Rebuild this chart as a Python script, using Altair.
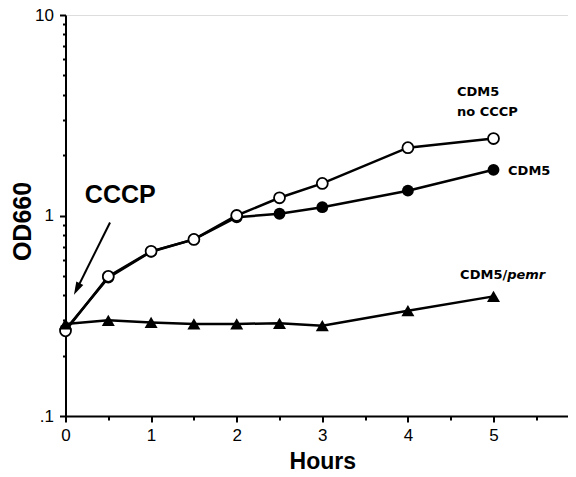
import altair as alt
import pandas as pd

# ---- data ----
hours = [0, 0.5, 1, 1.5, 2, 2.5, 3, 4, 5]
cdm5 = [0.27, 0.49, 0.66, 0.76, 0.98, 1.02, 1.10, 1.33, 1.69]
cdm5_no_cccp = [0.266, 0.497, 0.663, 0.76, 1.0, 1.226, 1.445, 2.18, 2.42]
cdm5_pemr = [0.288, 0.30, 0.293, 0.288, 0.288, 0.29, 0.282, 0.335, 0.395]
series_names = ["CDM5", "CDM5 no CCCP", "CDM5/pemr"]

x_ticks = [0, 1, 2, 3, 4, 5, 6]
x_minor = [0.5, 1.5, 2.5, 3.5, 4.5, 5.5]
y_ticks = [0.1, 1, 10]
y_minor = [0.2, 0.3, 0.4, 0.5, 0.6, 0.7, 0.8, 0.9, 2, 3, 4, 5, 6, 7, 8, 9]

# annotation text and anchor (in data units)
label_text = ["CDM5", "no CCCP", "CDM5", "CDM5/"]
label_x = [4.574, 4.574, 5.17, 4.61]
label_y = [3.94, 3.13, 1.60, 0.484]
italic_text = ["pemr"]
italic_x = [5.16]
italic_y = [0.484]
big_text = ["CCCP"]
big_x = [0.64]
big_y = [1.16]
arrow_x = [0.52]
arrow_y = [0.923]
arrow_x2 = [0.133]
arrow_y2 = [0.43]

rows = []
for name, vals in zip(series_names, [cdm5, cdm5_no_cccp, cdm5_pemr]):
    for h, v in zip(hours, vals):
        rows.append({"series": name, "hours": h, "od": v})
df = pd.DataFrame(rows)

labels_df = pd.DataFrame({"x": label_x, "y": label_y, "text": label_text})
italic_df = pd.DataFrame({"x": italic_x, "y": italic_y, "text": italic_text})
big_df = pd.DataFrame({"x": big_x, "y": big_y, "text": big_text})
arrow_df = pd.DataFrame({"x": arrow_x, "y": arrow_y, "x2": arrow_x2, "y2": arrow_y2})

FONT = "Liberation Sans"

x_scale = alt.Scale(domain=[0, 6], nice=False, zero=False)
y_scale = alt.Scale(type="log", domain=[0.1, 10], nice=False)

major_x = alt.Axis(
    orient="bottom",
    values=x_ticks, tickSize=6, tickWidth=2, tickColor="black",
    domainColor="black", domainWidth=2, grid=False,
    labelFont=FONT, labelFontSize=17, labelColor="black", labelPadding=5,
    labelFlush=False, labelOverlap=False, format="d",
    title="Hours", titleFont=FONT, titleFontSize=23, titleFontWeight="bold",
    titleColor="black", titleY=52, titleBaseline="alphabetic",
)
major_y = alt.Axis(
    orient="left",
    values=y_ticks, tickSize=6, tickWidth=2, tickColor="black",
    domainColor="black", domainWidth=2, grid=False,
    labelFont=FONT, labelFontSize=17, labelColor="black", labelPadding=6,
    labelOverlap=False,
    labelExpr="datum.value < 0.5 ? '.1' : (datum.value < 5 ? '1' : '10')",
    title="OD660", titleFont=FONT, titleFontSize=25, titleFontWeight="bold",
    titleColor="black", titleX=-43, titleY=206, titleBaseline="middle",
)
minor_x = alt.Axis(values=x_minor, tickSize=4, tickWidth=2, tickColor="black",
                   labels=False, domain=False, grid=False, title=None, orient="bottom")
minor_y = alt.Axis(values=y_minor, tickSize=3, tickWidth=2, tickColor="black",
                   labels=False, domain=False, grid=False, title=None, orient="left")

base = alt.Chart(df)

lines = base.mark_line(color="black", strokeWidth=2.5).encode(
    x=alt.X("hours:Q", scale=x_scale, axis=major_x),
    y=alt.Y("od:Q", scale=y_scale, axis=major_y),
    detail="series:N",
)

minor = base.mark_point(opacity=0).encode(
    x=alt.X("hours:Q", scale=x_scale, axis=minor_x),
    y=alt.Y("od:Q", scale=y_scale, axis=minor_y),
)

def enc(ch):
    return ch.encode(
        x=alt.X("hours:Q", scale=x_scale, axis=None),
        y=alt.Y("od:Q", scale=y_scale, axis=None),
    )

filled = enc(base.transform_filter(alt.datum.series == "CDM5").mark_point(
    shape="circle", filled=True, color="black", size=140, opacity=1))
openc = enc(base.transform_filter(alt.datum.series == "CDM5 no CCCP").mark_point(
    shape="circle", filled=True, fill="white", stroke="black", strokeWidth=1.8,
    size=120, opacity=1))
tri = enc(base.transform_filter(alt.datum.series == "CDM5/pemr").mark_point(
    shape="triangle-up", filled=True, color="black", size=169, opacity=1))

def txt_enc(ch):
    return ch.encode(
        x=alt.X("x:Q", scale=x_scale, axis=None),
        y=alt.Y("y:Q", scale=y_scale, axis=None),
        text="text:N",
    )

labels = txt_enc(alt.Chart(labels_df).mark_text(
    font="DejaVu Sans", fontSize=13, fontWeight="bold", color="black",
    align="left", baseline="alphabetic"))
italic = txt_enc(alt.Chart(italic_df).mark_text(
    font="DejaVu Sans", fontSize=13, fontWeight="bold", fontStyle="italic",
    color="black", align="left", baseline="alphabetic"))
big = txt_enc(alt.Chart(big_df).mark_text(
    font=FONT, fontSize=25, fontWeight="bold", color="black",
    align="center", baseline="alphabetic"))

arrow_line = alt.Chart(arrow_df).mark_rule(color="black", strokeWidth=2).encode(
    x=alt.X("x:Q", scale=x_scale, axis=None),
    y=alt.Y("y:Q", scale=y_scale, axis=None),
    x2="x2:Q", y2="y2:Q",
)
arrow_head = alt.Chart(arrow_df).mark_point(
    shape="M0,-1L0.6,1L-0.6,1Z", filled=True, color="black", size=169,
    angle=206.6, opacity=1).encode(
    x=alt.X("x2:Q", scale=x_scale, axis=None),
    y=alt.Y("y2:Q", scale=y_scale, axis=None),
)

chart = alt.layer(
    lines, minor, filled, openc, tri, labels, italic, big, arrow_line, arrow_head
).resolve_axis(x="independent", y="independent").properties(
    width=513.6, height=401, autosize="none",
    padding={"left": 57.5, "top": 7, "right": -11.1, "bottom": 53},
).configure_view(stroke="black", strokeWidth=2).configure(background="white")

chart.save("out.html", embed_options={"renderer": "svg", "actions": False})
